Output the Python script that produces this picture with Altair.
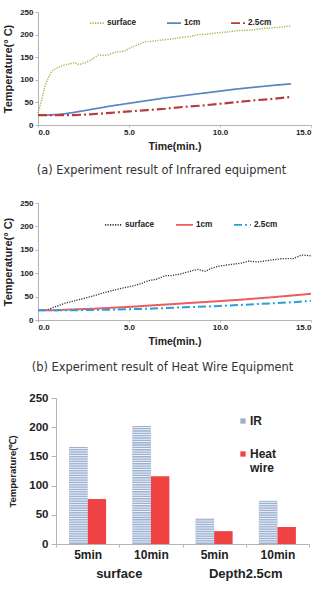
import altair as alt
import numpy as np
import pandas as pd

AXIS_FONT = "Liberation Sans"
CAPTION_FONT = "DejaVu Sans"

# ---------------- (a) Infrared equipment: temperature vs time ----------------
ir_names = ["surface", "1cm", "2.5cm"]
ir_surface_t = [0.0, 0.2, 0.37, 0.55, 0.73, 0.95, 1.2, 1.47, 1.75, 2.0, 2.2, 2.38, 2.6, 2.93,
                3.1, 3.3, 3.6, 3.85, 4.1, 4.4, 4.7, 5.1, 5.5, 5.86, 6.2, 6.6, 7.0, 7.5, 7.9,
                8.4, 8.8, 9.3, 9.9, 10.4, 11.0, 11.7, 12.45, 13.2, 13.9]
ir_surface_v = [26, 55, 85, 103, 118, 124, 129, 133, 135, 138, 134, 135, 138, 144,
                149, 155, 154, 155, 159, 162, 163, 171, 178, 184, 185, 187, 189, 191, 194,
                196, 200, 201, 204, 206, 209, 210, 214, 216, 219]
ir_1cm_t = [0, 0.5, 1, 1.5, 2, 3, 4, 5, 6, 7, 8, 9, 10, 11, 12, 13, 13.9]
ir_1cm_v = [22, 22, 23, 25, 28, 35, 42, 48, 54, 60, 65, 70, 75, 80, 84, 88, 91]
ir_25_t = [0, 1, 2, 3, 4, 5, 6, 7, 8, 9, 10, 11, 12, 13, 13.9]
ir_25_v = [22, 22, 22, 24, 27, 30, 33, 36, 40, 43, 47, 51, 55, 58, 62]

# ---------------- (b) Heat wire equipment: temperature vs time ----------------
hw_names = ["surface", "1cm", "2.5cm"]
hw_surface_t = [0.0, 0.5, 1.0, 1.5, 2.0, 2.5, 3.0, 3.5, 4.0, 4.4, 5.15, 5.6, 6.07, 6.5, 7.0,
                7.35, 7.8, 8.45, 8.8, 9.2, 9.5, 9.93, 10.3, 10.66, 11.1, 11.6, 12.1, 12.6,
                13.0, 13.4, 14.0, 14.5, 15.0]
hw_surface_v = [21, 22, 29, 36, 41, 46, 51, 57, 62, 66, 72, 77, 84, 87, 95,
                95, 98, 105, 108, 104, 110, 115, 117, 119, 121, 126, 124, 127,
                129, 131, 131, 139, 137]
hw_1cm_t = [0, 1, 1.5, 3, 5, 7, 9, 11, 13, 15]
hw_1cm_v = [21, 21, 22, 24, 28, 33, 38, 43, 49, 56]
hw_25_t = [0, 2, 4, 6, 8, 10, 12, 14, 15]
hw_25_v = [21, 21, 22, 24, 27, 30, 34, 38, 41]

# ---------------- (c) Measured temperature bars ----------------
c_cats = ["surface|5min", "surface|10min", "Depth2.5cm|5min", "Depth2.5cm|10min"]
c_series = ["IR", "Heat wire"]
c_ir = [166, 202, 44, 74]
c_hw = [77, 116, 22, 29]
c_groups = ["surface", "Depth2.5cm"]
c_group_anchor = ["surface|10min", "Depth2.5cm|10min"]


def frames(names, ts, vs, key):
    return [pd.DataFrame({"t": t, "temp": v, key: n}) for n, t, v in zip(names, ts, vs)]


def caption_title(text, offset, dx):
    return alt.TitleParams(text, orient="bottom", anchor="middle", frame="group",
                           font=CAPTION_FONT, fontSize=11.4, fontWeight="normal",
                           color="#333", offset=offset, dx=dx)


def line_panel(key, names, ts, vs, colors, dashes, widths, height, caption,
               legend_x, legend_y, sym_size, col_pad):
    legend = alt.Legend(
        title=None, orient="none", legendX=legend_x, legendY=legend_y,
        direction="horizontal", symbolType="stroke", symbolSize=sym_size,
        symbolStrokeWidth=1.8, labelFont=AXIS_FONT, labelFontSize=8.2,
        labelFontWeight="bold", labelColor="#222", labelOffset=2,
        columnPadding=col_pad, padding=0,
    )
    x = alt.X("t:Q", scale=alt.Scale(domain=[0, 15], nice=False),
              axis=alt.Axis(values=[0, 5, 10, 15], format=".1f", title="Time(min.)",
                            labelFontSize=8, tickSize=2, labelPadding=1,
                            titleFontSize=10.5, titlePadding=5))
    y = alt.Y("temp:Q", scale=alt.Scale(domain=[0, 250], nice=False),
              axis=alt.Axis(values=[0, 50, 100, 150, 200, 250], title="Temperature(° C)",
                            labelFontSize=8, tickSize=3, labelPadding=2,
                            titleFontSize=11, titlePadding=6))
    color = alt.Color(f"{key}:N", scale=alt.Scale(domain=names, range=colors),
                      sort=names, legend=legend)
    dash = alt.StrokeDash(f"{key}:N", scale=alt.Scale(domain=names, range=dashes),
                          sort=names, legend=legend)
    layers = []
    for df, w in zip(frames(names, ts, vs, key), widths):
        layers.append(
            alt.Chart(df).mark_line(strokeWidth=w, strokeCap="butt")
            .encode(x=x, y=y, color=color, strokeDash=dash)
        )
    return alt.layer(*layers).properties(width=273, height=height, title=caption)


panel_a = line_panel(
    "ir_depth", ir_names, [ir_surface_t, ir_1cm_t, ir_25_t], [ir_surface_v, ir_1cm_v, ir_25_v],
    ["#a3b84c", "#5b84c4", "#b83c3c"], [[1.2, 1.3], [1, 0], [9, 3, 2, 3]], [1.5, 1.7, 2.2],
    113, caption_title("(a) Experiment result of Infrared equipment", 13, -13),
    51, 3, 196, 26,
)
panel_b = line_panel(
    "hw_depth", hw_names, [hw_surface_t, hw_1cm_t, hw_25_t], [hw_surface_v, hw_1cm_v, hw_25_v],
    ["#333333", "#ee5c5c", "#2a9fd8"], [[1.2, 1.3], [1, 0], [8, 3, 2, 3]], [1.3, 2.0, 2.0],
    117, caption_title("(b) Experiment result of Heat Wire Equipment", 15, -12),
    66, 12, 289, 17,
)

# ---- bar panel ----
bar_df = pd.DataFrame({
    "cat": c_cats * 2,
    "equipment": [c_series[0]] * 4 + [c_series[1]] * 4,
    "temp": c_ir + c_hw,
})

# horizontal hatching over the IR bars
hatch_rows = []
for cat, v in zip(c_cats, c_ir):
    for lo in np.arange(2.6, v - 0.5, 4.0):
        hatch_rows.append({"cat": cat, "equipment": c_series[0], "lo": lo, "hi": min(lo + 1.7, v)})
hatch_df = pd.DataFrame(hatch_rows)

group_df = pd.DataFrame({"cat": c_group_anchor, "group": c_groups})

C_W, C_H = 271, 146
x_scale = alt.Scale(domain=c_cats, range=[18, C_W], paddingInner=0, paddingOuter=0)
xoff_scale = alt.Scale(domain=c_series, paddingInner=0, paddingOuter=0.71)
y_scale_c = alt.Scale(domain=[0, 250], nice=False)
x_axis_c = alt.Axis(title=None, labelExpr="split(datum.label, '|')[1]", labelAngle=0,
                    labelFontSize=12, tickSize=3, tickBand="extent", labelPadding=2)
y_axis_c = alt.Axis(values=[0, 50, 100, 150, 200, 250], offset=-18, labelOverlap=False,
                    title="Temperature(℃)", labelFontSize=11.5, tickSize=5,
                    labelPadding=3, titleFontSize=9.5, titlePadding=11)

bars = alt.Chart(bar_df).mark_bar().encode(
    x=alt.X("cat:N", scale=x_scale, sort=c_cats, axis=x_axis_c),
    xOffset=alt.XOffset("equipment:N", scale=xoff_scale, sort=c_series),
    y=alt.Y("temp:Q", scale=y_scale_c, axis=y_axis_c),
    color=alt.Color("equipment:N", scale=alt.Scale(domain=c_series, range=["#9cb1d1", "#ef4343"]),
                    sort=c_series,
                    legend=alt.Legend(
                        title=None, orient="none", legendX=199, legendY=17,
                        direction="vertical", symbolType="square", symbolSize=28,
                        labelFont=AXIS_FONT, labelFontSize=12, labelFontWeight="bold",
                        labelColor="#222", labelOffset=1, rowPadding=21, padding=0,
                        labelExpr="datum.label == 'Heat wire' ? ['Heat', 'wire'] : datum.label",
                    )),
)

hatch = alt.Chart(hatch_df).mark_bar(color="#eef2f8").encode(
    x=alt.X("cat:N", scale=x_scale, sort=c_cats, axis=x_axis_c),
    xOffset=alt.XOffset("equipment:N", scale=xoff_scale, sort=c_series),
    y=alt.Y("lo:Q", scale=y_scale_c, axis=y_axis_c),
    y2="hi:Q",
)

group_labels = alt.Chart(group_df).mark_text(
    font=AXIS_FONT, fontSize=13, fontWeight="bold", color="#222", baseline="middle"
).encode(
    x=alt.X("cat:N", bandPosition=0, scale=x_scale, sort=c_cats, axis=x_axis_c),
    y=alt.value(C_H + 30),
    text="group:N",
)

panel_c = alt.layer(bars, hatch, group_labels).properties(
    width=C_W, height=C_H,
    title=caption_title("(c) Measured temperature", 34, -12),
)

chart = alt.vconcat(panel_a, panel_b, panel_c, spacing=78).properties(
    bounds="flush",
    padding={"left": 2, "top": 8, "right": 0, "bottom": 0},
).resolve_scale(
    color="independent", strokeDash="independent", x="independent", y="independent",
).resolve_legend(
    color="independent", strokeDash="independent",
).configure_view(stroke=None).configure_axis(
    labelFont=AXIS_FONT, labelFontWeight="bold", labelColor="#222",
    titleFont=AXIS_FONT, titleFontWeight="bold", titleColor="#222",
    domainColor="#b5b5b5", tickColor="#b5b5b5", grid=False,
)

chart.save("out.html", embed_options={"renderer": "svg", "actions": False})
